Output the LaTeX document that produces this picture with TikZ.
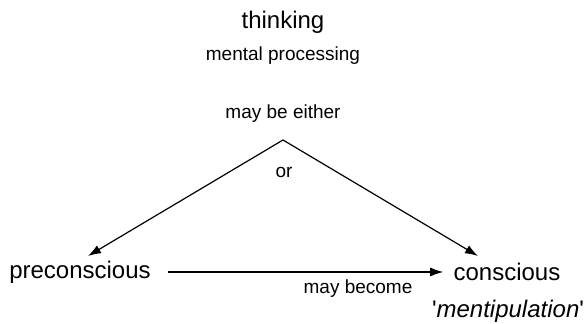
\documentclass[tikz,border=0pt]{standalone}
\usepackage{fontspec}
\setmainfont{Liberation Sans}
\usetikzlibrary{arrows.meta,positioning,calc}

\begin{document}
\begin{tikzpicture}[x=0.5pt, y=-0.5pt, every node/.style={inner sep=1pt},
  big/.style={font=\fontsize{12}{14}\selectfont},
  small/.style={font=\fontsize{9.5}{11}\selectfont},
  link/.style={-{Latex[length=6.5pt,width=4.5pt]}, line width=0.6pt}]
\useasboundingbox (0,0) rectangle (586,324);
\node[big] (thinking) at (283,22) {thinking};
\node[small] (processing) at (283,56) {mental processing};
\node[small] (either) at (283,114) {may be either};
\coordinate (apex) at (283,140);
\node[small] (or) at (284,172) {or};
\node[big] (pre) at (80,272) {preconscious};
\node[big] (con) at (507,272) {conscious};
\node[small] (become) at (358,289) {may become};
\node[big] (mentip) at (508,311) {\textquotesingle\textit{mentipulation}\textquotesingle};
\draw[link] (apex) -- ($(pre)+(8,-16)$);
\draw[link] (apex) -- ($(con)+(-29,-16)$);
\draw[link] ($(pre.east)+(15,0)$) -- ($(con.west)+(-8,0)$);
\end{tikzpicture}
\end{document}
